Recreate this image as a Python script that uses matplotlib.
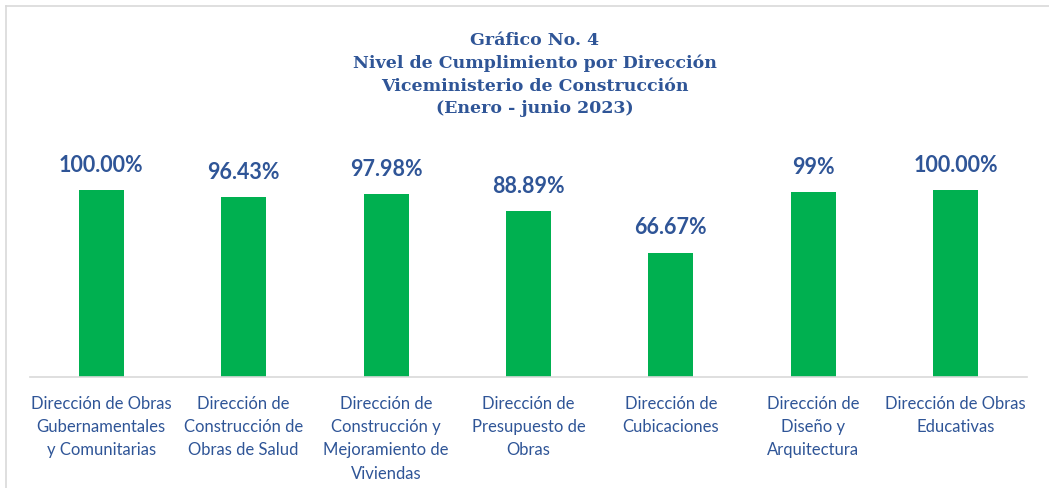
import numpy as np
import matplotlib.pyplot as plt
from matplotlib.lines import Line2D

# Datos del grafico
direcciones = [
    'Dirección de Obras\nGubernamentales\ny Comunitarias',
    'Dirección de\nConstrucción de\nObras de Salud',
    'Dirección de\nConstrucción y\nMejoramiento de\nViviendas',
    'Dirección de\nPresupuesto de\nObras',
    'Dirección de\nCubicaciones',
    'Dirección de\nDiseño y\nArquitectura',
    'Dirección de Obras\nEducativas',
]
cumplimiento = [100.00, 96.43, 97.98, 88.89, 66.67, 99.0, 100.00]
etiquetas = ['100.00%', '96.43%', '97.98%', '88.89%', '66.67%', '99%', '100.00%']

azul = '#2F5597'
verde = '#00B050'

W, H = 1049, 489
fig = plt.figure(figsize=(W / 100, H / 100), dpi=100)
ax = fig.add_axes([30 / W, 111 / H, 997 / W, 224 / H])

x = np.arange(len(direcciones))
ax.bar(x, cumplimiento, width=0.316, color=verde)
ax.set_xlim(-0.5, len(direcciones) - 0.5)
ax.set_ylim(0, 120)

for xi, v, t in zip(x, cumplimiento, etiquetas):
    ax.annotate(t, (xi, v), xytext=(0, 11), textcoords='offset points',
                ha='center', va='bottom', fontsize=15.5, fontweight='bold',
                color=azul, family='Lato')

ax.set_yticks([])
ax.set_xticks(x)
ax.set_xticklabels(direcciones, fontsize=12, color=azul, family='Lato',
                   linespacing=1.55, va='top')
ax.tick_params(axis='x', length=0, pad=13)
for s in ['top', 'right', 'left']:
    ax.spines[s].set_visible(False)
ax.spines['bottom'].set_color('#D9D9D9')
ax.spines['bottom'].set_linewidth(1.2)

fig.text(535 / W, 1 - 32 / H,
         'Gráfico No. 4\nNivel de Cumplimiento por Dirección\n'
         'Viceministerio de Construcción\n(Enero - junio 2023)',
         ha='center', va='top', fontsize=12.5, fontweight='bold', color=azul,
         family='DejaVu Serif', linespacing=1.42)

# marco del grafico
fig.add_artist(Line2D([6 / W, 6 / W], [0, 1 - 7 / H], color='#D9D9D9', lw=1.2))
fig.add_artist(Line2D([6 / W, 1], [1 - 7 / H, 1 - 7 / H], color='#D9D9D9', lw=1.2))

fig.savefig('out.png', dpi=100, facecolor='white')
